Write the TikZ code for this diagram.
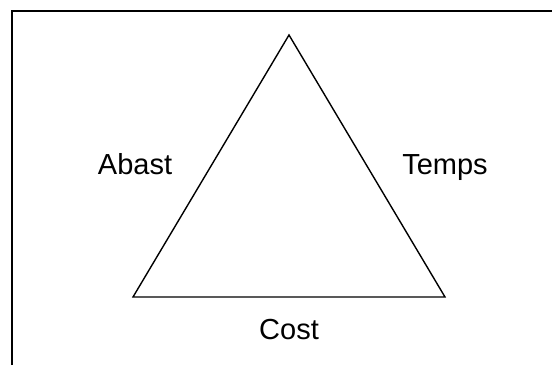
\documentclass[tikz,border=0pt]{standalone}
\usepackage{fontspec}
\setmainfont{Liberation Sans}
\usetikzlibrary{positioning}

\begin{document}
\begin{tikzpicture}[
  x=1pt, y=1pt,
  frame/.style={line width=1.8pt},
  side/.style={line width=1.4pt, line join=miter},
  lbl/.style={font=\fontsize{29}{33}\selectfont, inner sep=0pt, anchor=base}
]
  \useasboundingbox (0,0) rectangle (552,365);

  % Frame (top and left only)
  \coordinate (ftl) at (12,354);
  \coordinate (ftr) at (552,354);
  \coordinate (fbl) at (12,0);
  \draw[frame] (fbl) -- (ftl) -- (ftr);

  % Corners
  \coordinate (top) at (289,330);
  \coordinate (left) at (133,68);
  \coordinate (right) at (445,68);

  % Sides
  \draw[side] (top) -- (right) -- (left) -- cycle;

  % Labels
  \node[lbl] (abast) at (135,191) {Abast};
  \node[lbl] (temps) at (445,191) {Temps};
  \node[lbl] (cost) at (289,26) {Cost};
\end{tikzpicture}
\end{document}
